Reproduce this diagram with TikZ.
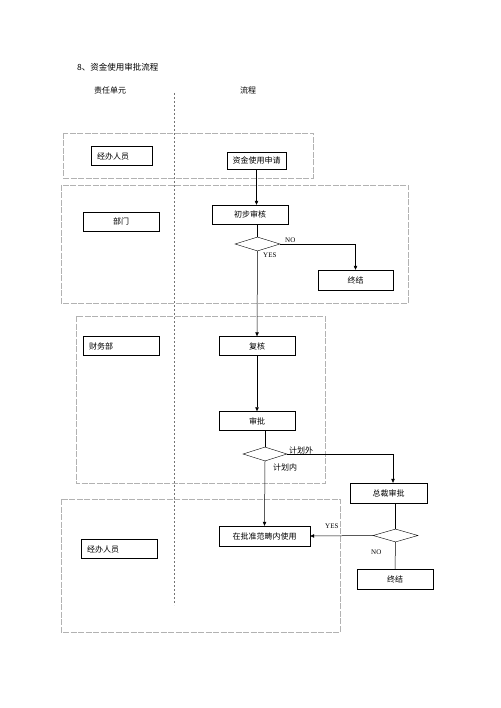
\documentclass[tikz,border=0pt]{standalone}
\usepackage{fontspec}
\setmainfont{Liberation Serif}
\newfontfamily\cjk{Noto Sans CJK SC}
\usepackage{tikz}
\usetikzlibrary{shapes.geometric, arrows.meta, positioning, calc}

\begin{document}
\begin{tikzpicture}[
    x=1pt, y=-1pt,
    box/.style={rectangle, draw, minimum height=19pt, inner sep=1pt, align=center, font=\cjk\fontsize{8}{10}\selectfont},
    unit/.style={box, align=left, inner xsep=6pt},
    decision/.style={diamond, draw, inner sep=0pt, aspect=3, minimum width=45pt, minimum height=14pt},
    lane/.style={draw=gray!60, dash pattern=on 6pt off 1.5pt, line width=0.6pt},
    divider/.style={draw=gray!90!black, dash pattern=on 2pt off 2pt, line width=0.6pt},
    lbl/.style={font=\fontsize{7}{8}\selectfont, inner sep=0pt},
    clbl/.style={font=\cjk\fontsize{8}{9}\selectfont, inner sep=0pt},
    arrow/.style={-{Triangle[length=4pt, width=3.5pt]}, line width=0.5pt},
    line/.style={line width=0.5pt}
]
    \useasboundingbox (0,0) rectangle (500,708);

    % Title and headings
    \node[font=\cjk\fontsize{8.5}{10}\selectfont, anchor=west, inner sep=0pt] (title) at (77,67) {8、资金使用审批流程};
    \node[font=\cjk\fontsize{8}{10}\selectfont, inner sep=0pt] (unithead) at (110,90) {责任单元};
    \node[font=\cjk\fontsize{8}{10}\selectfont, inner sep=0pt] (flowhead) at (248,90) {流程};
    \draw[divider] (174,93) -- (174,605);

    % Lanes
    \draw[lane] (63,133) rectangle (313,178);
    \draw[lane] (61,185) rectangle (408,303);
    \draw[lane] (76,316) rectangle (325,483);
    \draw[lane] (61,499) rectangle (340,632);

    % Responsible units
    \node[unit, text width=49pt] (staff1) at (121.5,156) {经办人员};
    \node[box, minimum width=76pt] (dept) at (121,221.5) {部门};
    \node[unit, text width=64pt] (finance) at (121,346) {财务部};
    \node[unit, text width=64pt] (staff2) at (119,549) {经办人员};

    % Application
    \node[box, minimum width=59pt, minimum height=17pt] (apply) at (256.5,160.5) {资金使用申请};

    % First review
    \node[box, minimum width=76pt] (review1) at (250,214.5) {初步审核};
    \node[decision] (d1) at (257.5,244) {};
    \node[box, minimum width=75pt, minimum height=20pt] (end1) at (355.5,280) {终结};

    % Finance
    \node[box, minimum width=76pt] (recheck) at (257,346) {复核};
    \node[box, minimum width=76pt] (approve) at (257,421) {审批};
    \node[decision, minimum width=44pt] (d2) at (265,454) {};

    % President
    \node[box, minimum width=77pt, minimum height=20pt] (ceo) at (388.5,493) {总裁审批};
    \node[decision, minimum height=13pt] (d3) at (395.5,535.5) {};
    \node[box, minimum width=76pt, minimum height=20pt] (end2) at (395,579) {终结};

    % Use
    \node[box, minimum width=91pt, minimum height=20pt] (use) at (264.5,536) {在批准范畴内使用};

    % Arrows
    \draw[arrow] (apply.south) -- (apply.south |- review1.north);
    \draw[line] (d1.north |- review1.south) -- (d1.north);
    \draw[arrow] (d1.east) -| (end1.north);
    \draw[arrow] (d1.south) -- (recheck.north);
    \draw[arrow] (recheck) -- (approve);
    \draw[line] (d2.north |- approve.south) -- (d2.north);
    \draw[arrow] (d2.east) -| ([xshift=4.5pt]ceo.north);
    \draw[arrow] (d2.south) -- (use.north);
    \draw[line] (d3.north |- ceo.south) -- (d3.north);
    \draw[arrow] (d3.west) -- (use.east);
    \draw[line] (d3.south) -- (end2.north);

    % Labels
    \node[lbl, anchor=west] (no1) at (285,240) {NO};
    \node[lbl, anchor=west] (yes1) at (263,255) {YES};
    \node[clbl, anchor=west] (outplan) at (289,450) {计划外};
    \node[clbl, anchor=west] (inplan) at (273,467) {计划内};
    \node[lbl, anchor=west] (yes2) at (325,526) {YES};
    \node[lbl, anchor=west] (no2) at (371,552) {NO};
\end{tikzpicture}
\end{document}
